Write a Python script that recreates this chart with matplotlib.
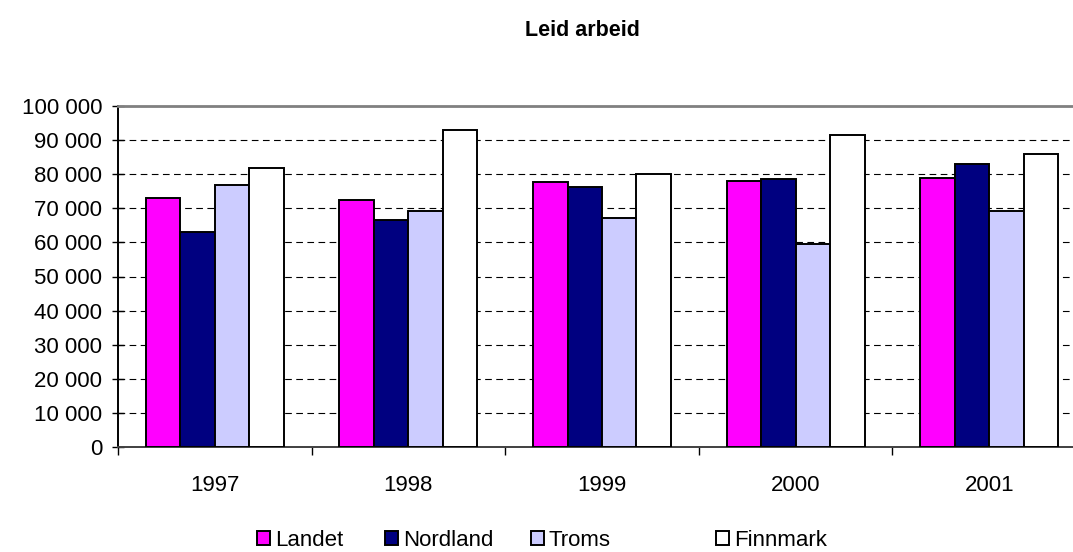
import matplotlib.pyplot as plt
import numpy as np

plt.rcParams['font.family'] = ['Liberation Sans', 'DejaVu Sans']

years = ['1997', '1998', '1999', '2000', '2001']
series = ['Landet', 'Nordland', 'Troms', 'Finnmark']
landet = [72900, 72400, 77800, 78100, 78900]
nordland = [63100, 66500, 76300, 78500, 82900]
troms = [76800, 69100, 67200, 59600, 69100]
finnmark = [81700, 92900, 80000, 91400, 85800]
values = [landet, nordland, troms, finnmark]
colors = ['#FF00FF', '#000080', '#CCCCFF', '#FFFFFF']
yticks = list(range(0, 100001, 10000))
ytick_labels = ['0'] + ['{:,}'.format(v).replace(',', ' ') for v in yticks[1:]]

fs = 16

fig = plt.figure(figsize=(10.73, 5.52), dpi=100)
ax = fig.add_axes([118 / 1073, 1 - 447 / 552, 968 / 1073, 341 / 552])

x = np.arange(len(years))
w = 0.178
bars = []
for i, (name, vals) in enumerate(zip(series, values)):
    b = ax.bar(x + (i - 1.5) * w, vals, width=w, color=colors[i],
               edgecolor='black', linewidth=1.4, label=name, zorder=3)
    bars.append(b)

ax.set_xlim(-0.5, len(years) - 0.5)
ax.set_ylim(0, 100000)
ax.set_yticks(yticks)
ax.set_yticklabels(ytick_labels, fontsize=fs)
ax.yaxis.grid(True, color='black', linestyle=(0, (6, 4)), linewidth=0.8)
ax.set_axisbelow(True)

# category boundaries as major ticks, labels on minor ticks
ax.set_xticks(np.arange(-0.5, len(years), 1.0))
ax.set_xticklabels([])
ax.set_xticks(x, minor=True)
ax.set_xticklabels(years, minor=True, fontsize=fs)
ax.tick_params(axis='x', which='major', direction='out', length=6, width=1)
ax.tick_params(axis='x', which='minor', length=0, pad=20)
ax.tick_params(axis='y', direction='inout', length=9, width=1, pad=7)

ax.spines['right'].set_visible(False)
ax.spines['top'].set_color('#808080')
ax.spines['top'].set_linewidth(2)
ax.spines['left'].set_linewidth(1.4)
ax.spines['bottom'].set_color('#404040')
ax.spines['bottom'].set_linewidth(1.4)

fig.text(582 / 1073, 1 - 31 / 552, 'Leid arbeid', ha='center', va='center',
         fontsize=15.5, fontweight='bold')

# legend entries placed like the original (one per slot)
legend_x = [257, 385, 531, 716]
for b, name, lx in zip(bars, series, legend_x):
    lg = fig.legend([b], [name], loc='center left',
                    bbox_to_anchor=(lx / 1073, 1 - 540 / 552),
                    frameon=False, fontsize=fs, handlelength=0.6,
                    handleheight=0.6, handletextpad=0.2, borderpad=0,
                    borderaxespad=0)

fig.savefig('out.png', dpi=100)
